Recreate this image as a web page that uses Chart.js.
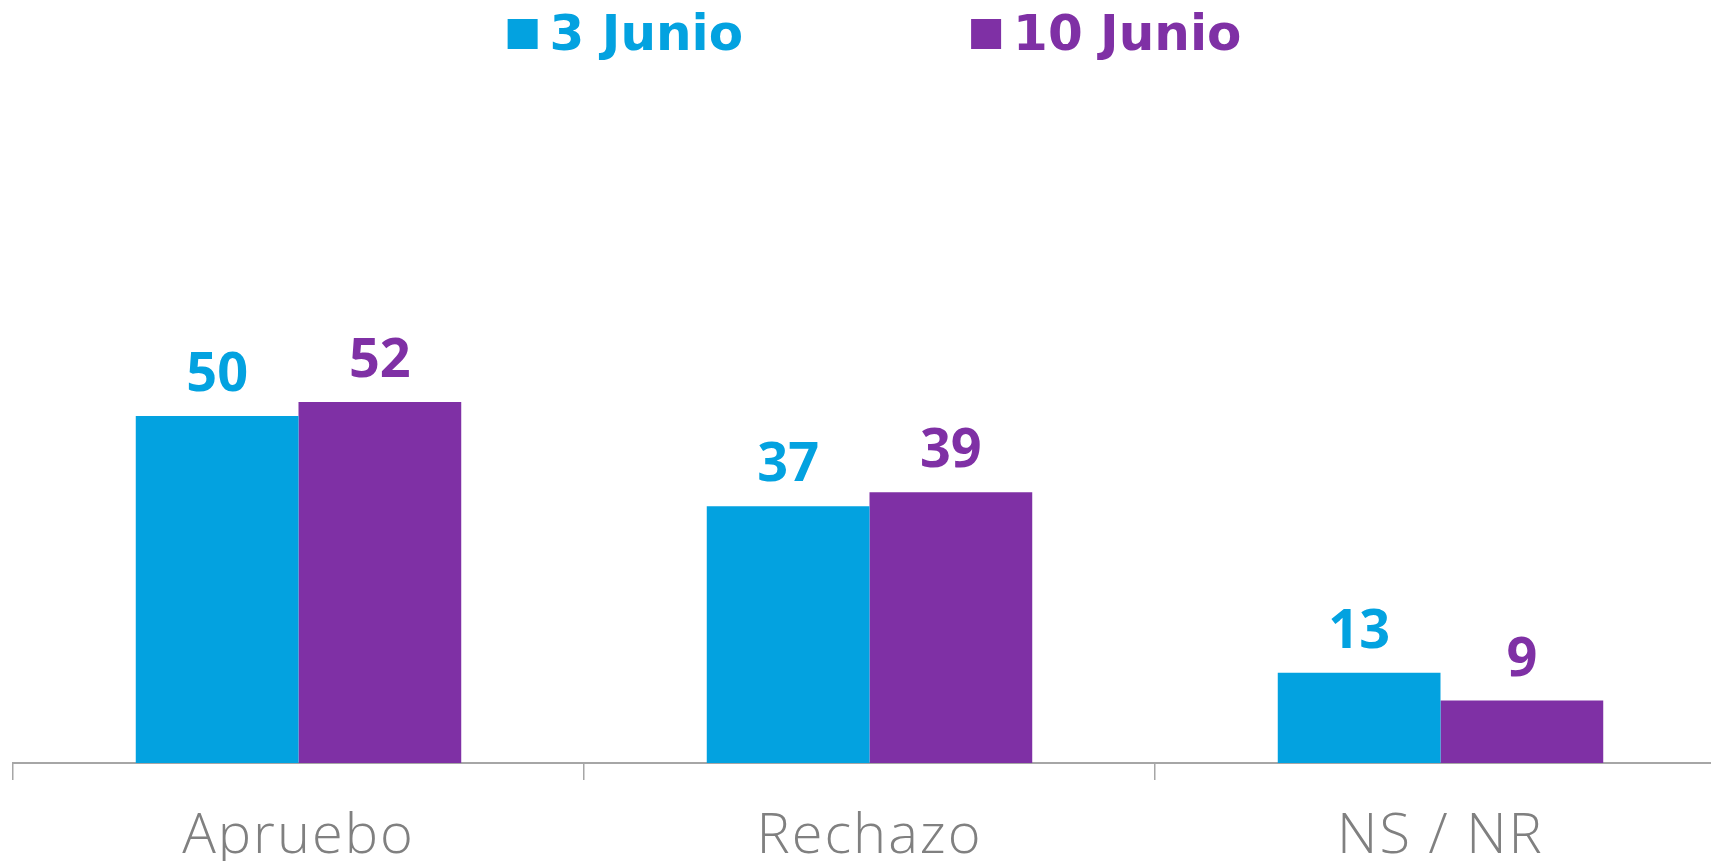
<!DOCTYPE html>
<html>
<head>
<meta charset="utf-8">
<script src="https://cdn.jsdelivr.net/npm/chart.js@4"></script>
<style>
  html, body { margin: 0; padding: 0; background: #fff; overflow: hidden; }
  /* the original is cropped on the right and below, so the canvas is a bit larger than the window */
  #wrap { width: 1711px; height: 861px; overflow: hidden; }
  canvas { display: block; }
</style>
</head>
<body>
<div id="wrap"><canvas id="chart" width="1726" height="894"></canvas></div>
<script>
const categories = ['Apruebo', 'Rechazo', 'NS / NR'];
const seriesNames = ['3 Junio', '10 Junio'];
const junio3 = [50, 37, 13];
const junio10 = [52, 39, 9];
const yMax = 100;

const blue = '#03A2E0';
const purple = '#7F30A5';
const boldFont = 'bold 50px "DejaVu Sans"';

// a little letter spacing for the category labels only
const tickSpacing = {
  id: 'tickSpacing',
  beforeDraw(chart) {
    chart.ctx.letterSpacing = '2px';
  },
  beforeDatasetsDraw(chart) {
    chart.ctx.letterSpacing = '0px';
  }
};

// numbers above each bar
const valueLabels = {
  id: 'valueLabels',
  afterDatasetsDraw(chart) {
    const ctx = chart.ctx;
    ctx.save();
    ctx.font = 'bold 54px "Open Sans"';
    ctx.textAlign = 'center';
    ctx.textBaseline = 'alphabetic';
    chart.data.datasets.forEach((ds, i) => {
      chart.getDatasetMeta(i).data.forEach((bar, j) => {
        ctx.fillStyle = ds.backgroundColor;
        ctx.fillText(ds.data[j], bar.x, bar.y - 25);
      });
    });
    ctx.restore();
  }
};

// legend on top, wide gap between the two items
const topLegend = {
  id: 'topLegend',
  afterDraw(chart) {
    const ctx = chart.ctx;
    const box = 30, textGap = 12, itemGap = 228;
    ctx.save();
    ctx.font = boldFont;
    const widths = chart.data.datasets.map(ds => box + textGap + ctx.measureText(ds.label).width);
    const total = widths.reduce((a, b) => a + b, 0) + itemGap * (widths.length - 1);
    let x = chart.width / 2 + 11.5 - total / 2;
    chart.data.datasets.forEach((ds, i) => {
      ctx.fillStyle = ds.backgroundColor;
      ctx.fillRect(x, 19, box, box);
      ctx.textBaseline = 'alphabetic';
      ctx.fillText(ds.label, x + box + textGap, 50);
      x += widths[i] + itemGap;
    });
    ctx.restore();
  }
};

new Chart(document.getElementById('chart'), {
  type: 'bar',
  data: {
    labels: categories,
    datasets: [
      {
        label: seriesNames[0],
        data: junio3,
        backgroundColor: blue,
        categoryPercentage: 0.57,
        barPercentage: 1
      },
      {
        label: seriesNames[1],
        data: junio10,
        backgroundColor: purple,
        categoryPercentage: 0.57,
        barPercentage: 1
      }
    ]
  },
  options: {
    responsive: false,
    animation: false,
    layout: {
      padding: { top: 69, left: 13, right: 0, bottom: 0 }
    },
    plugins: {
      legend: { display: false },
      tooltip: { enabled: false }
    },
    scales: {
      x: {
        grid: {
          display: true,
          drawOnChartArea: false,
          tickLength: 17,
          color: '#A6A6A6',
          lineWidth: 1.5,
          offset: true
        },
        border: { display: true, color: '#A6A6A6', width: 2 },
        ticks: {
          color: '#808080',
          font: { family: '"Open Sans"', size: 56, weight: 300, lineHeight: 1 },
          padding: 29
        }
      },
      y: {
        display: false,
        min: 0,
        max: yMax
      }
    }
  },
  plugins: [tickSpacing, valueLabels, topLegend]
});
</script>
</body>
</html>
